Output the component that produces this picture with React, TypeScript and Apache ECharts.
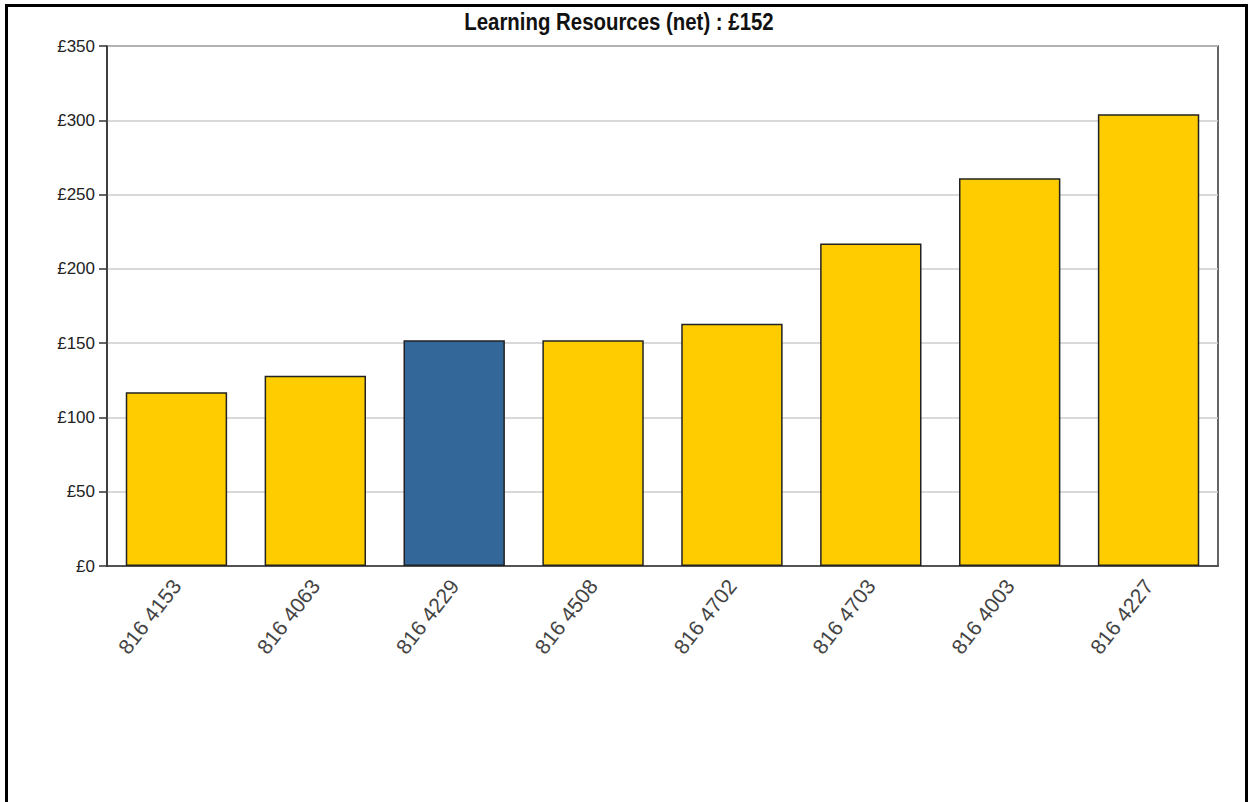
import React, { useEffect, useRef } from "react";
import * as echarts from "echarts";

const categories = ["816 4153", "816 4063", "816 4229", "816 4508", "816 4702", "816 4703", "816 4003", "816 4227"];
const values = [117, 128, 152, 152, 163, 217, 261, 304];
const highlightIndex = 2;
const yTicks = { min: 0, max: 350, interval: 50 };
const titleText = "Learning Resources (net) : £152";

const YELLOW = "#FFCC00";
const BLUE = "#336699";
const FONT = "'Liberation Sans', Arial, sans-serif";

export default function App() {
  const ref = useRef<HTMLDivElement>(null);
  useEffect(() => {
    if (!ref.current) return;
    const chart = echarts.init(ref.current, null, { renderer: "svg" });
    chart.setOption({
      animation: false,
      backgroundColor: "#ffffff",
      graphic: [
        {
          type: "rect",
          shape: { x: 6.5, y: 5.5, width: 1240, height: 820 },
          style: { fill: "none", stroke: "#000", lineWidth: 3 },
          silent: true,
        },
        {
          type: "text",
          x: 619,
          y: 22,
          scaleX: 0.85,
          style: {
            text: titleText,
            fontFamily: FONT,
            fontWeight: "bold",
            fontSize: 24,
            fill: "#111",
            align: "center",
            verticalAlign: "middle",
          },
          silent: true,
        },
      ],
      grid: {
        left: 107,
        right: 32,
        top: 46,
        bottom: 236,
        show: true,
        borderColor: "#333",
        borderWidth: 1.5,
        backgroundColor: "transparent",
      },
      xAxis: {
        type: "category",
        data: categories,
        axisLine: { lineStyle: { color: "#333", width: 1.5 } },
        axisTick: { alignWithLabel: true, length: 7, lineStyle: { color: "#333", width: 1.5 } },
        axisLabel: {
          interval: 0,
          rotate: 52,
          margin: 16,
          fontFamily: FONT,
          fontSize: 21,
          color: "#444",
        },
      },
      yAxis: {
        type: "value",
        min: yTicks.min,
        max: yTicks.max,
        interval: yTicks.interval,
        axisLine: { show: true, lineStyle: { color: "#333", width: 1.5 } },
        axisTick: { show: true, length: 8, lineStyle: { color: "#333", width: 1.5 } },
        splitLine: { lineStyle: { color: "#cccccc", width: 1.5 } },
        axisLabel: {
          formatter: "£{value}",
          margin: 12,
          fontFamily: FONT,
          fontSize: 17,
          color: "#222",
        },
      },
      series: [
        {
          type: "bar",
          barCategoryGap: "27%",
          data: values.map((v, i) => ({
            value: v,
            itemStyle: { color: i === highlightIndex ? BLUE : YELLOW },
          })),
          itemStyle: { borderColor: "#222", borderWidth: 1.5 },
        },
      ],
    });
    return () => chart.dispose();
  }, []);
  return (
    <div
      ref={ref}
      style={{ position: "absolute", left: 0, top: 0, width: 1250, height: 802 }}
    />
  );
}
